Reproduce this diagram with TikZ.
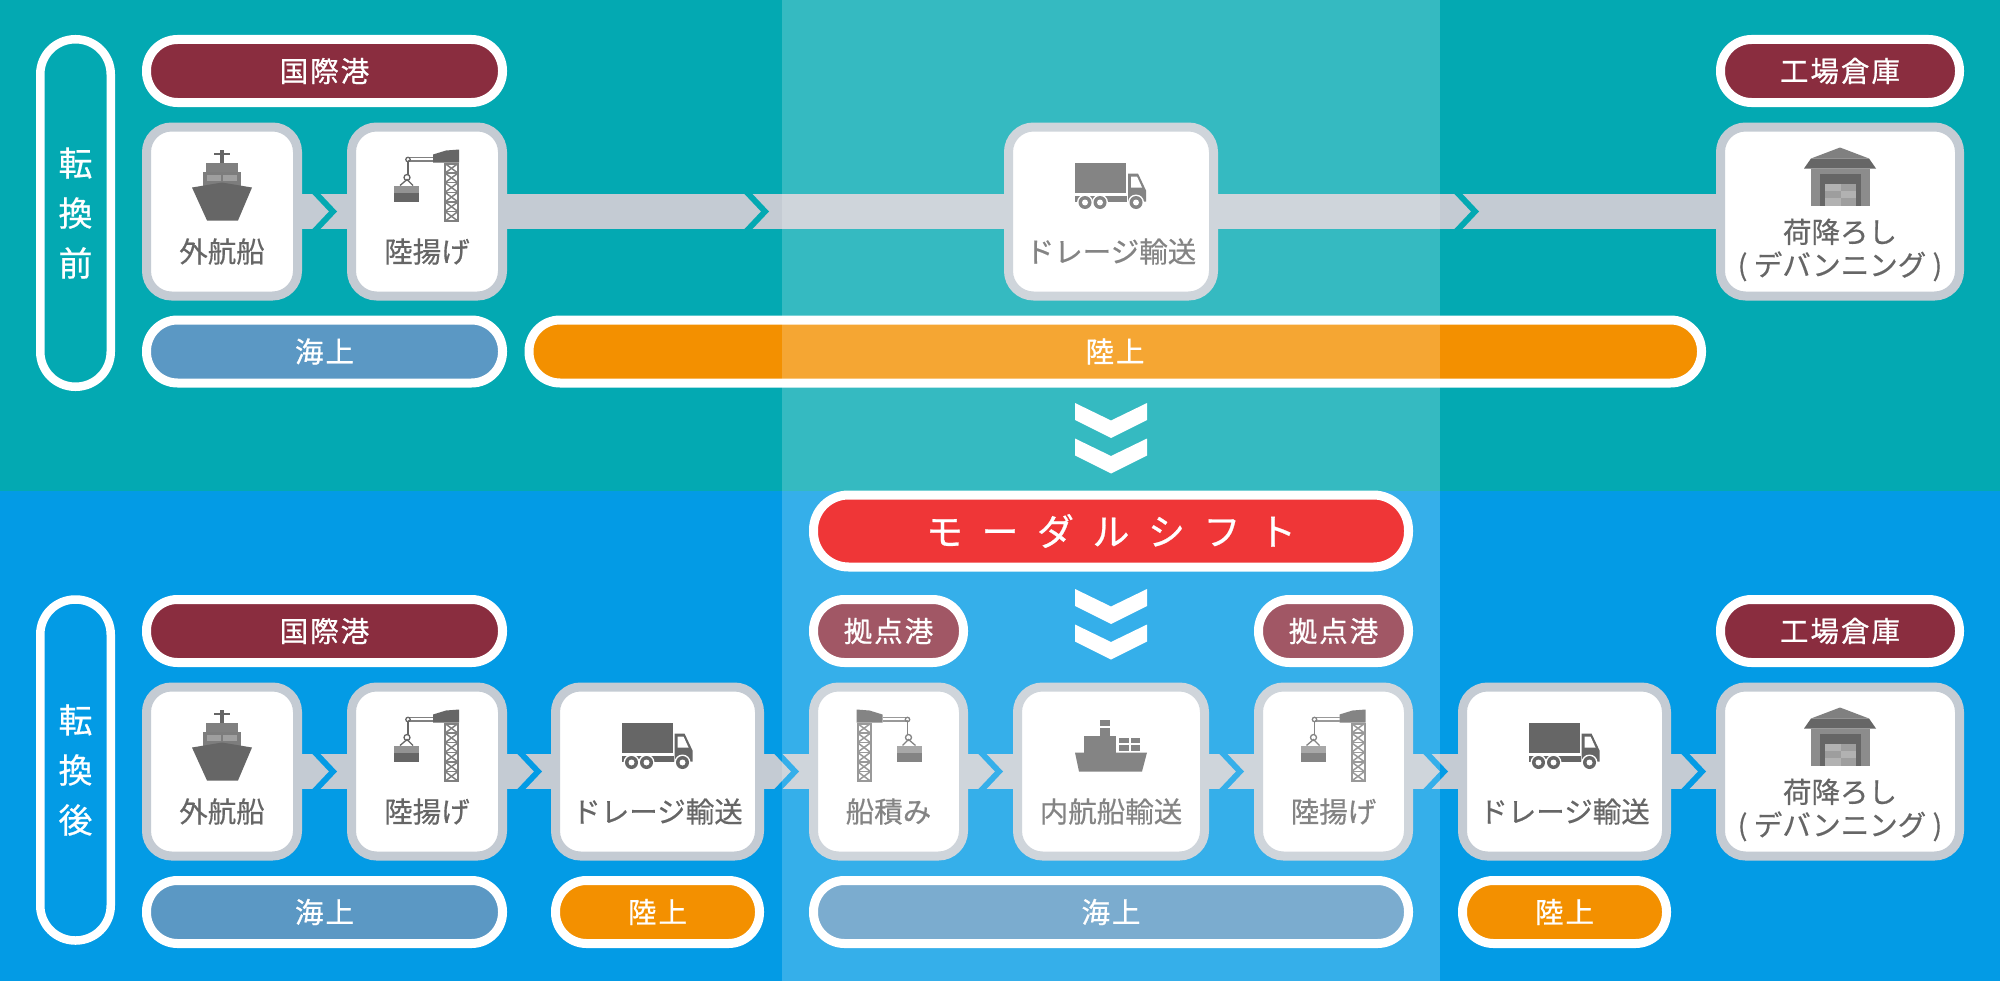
\documentclass[tikz,border=0pt]{standalone}
\usepackage{fontspec}
\newfontfamily\jpfont[FakeBold=0.5]{Noto Sans CJK JP}
\newfontfamily\jpwide[LetterSpace=7,FakeBold=0.7]{Noto Sans CJK JP}
\newfontfamily\jpshift[LetterSpace=50,FakeBold=0.7]{Noto Sans CJK JP}
\definecolor{bandteal}{HTML}{03A9B2}
\definecolor{bandblue}{HTML}{039BE5}
\definecolor{cardgray}{HTML}{C4CBD3}
\definecolor{icongray}{HTML}{666666}
\definecolor{portred}{HTML}{8A2D3F}
\definecolor{searoute}{HTML}{5B98C4}
\definecolor{landroute}{HTML}{F39000}
\definecolor{shiftred}{HTML}{EB0406}
\tikzset{
  card/.style={draw=cardgray,fill=white,line width=9pt,rounded corners=25pt,inner sep=0pt,minimum height=169pt},
  pill/.style={draw=white,line width=9pt,rounded corners=31pt,inner sep=0pt,minimum height=63pt,text=white,font=\jpwide\fontsize{28.5}{33}\selectfont},
  phase/.style={draw=white,line width=8.5pt,rounded corners=35pt,inner sep=0pt,minimum width=70.5pt,text=white,align=center,font=\jpfont\fontsize{34}{50}\selectfont},
  cardtext/.style={text=icongray,inner sep=0pt,align=center,font=\jpfont\fontsize{28.5}{33}\selectfont},
  linkbar/.style={draw=cardgray,line width=35pt},
  % gap that cuts a link bar
  pics/linkgap/.style={code={
    \fill[#1] (-17,-18) -- (0,0) -- (-17,18) -- (-9,18) -- (8,0) -- (-9,-18) -- cycle;
  }},
  pics/doublechev/.style={code={
    \foreach \k in {0,35.5} {
      \fill[white] (-36,\k) -- (0,17.5+\k) -- (36,\k) -- (36,17+\k) -- (0,35+\k) -- (-36,17+\k) -- cycle;
    }
  }},
  pics/oceanship/.style={code={
    \fill[icongray] (-2,-62) rectangle (2,-49);
    \fill[icongray] (-8,-59) rectangle (8,-57);
    \fill[gray] (-16,-49) rectangle (16,-40);
    \fill[icongray!85!white] (-19,-40) rectangle (19,-20);
    \fill[gray!75!white] (-15,-37) rectangle (-1,-31);
    \fill[gray!75!white] (1,-37) rectangle (15,-31);
    \fill[icongray] (-30,-24) -- (0,-29) -- (30,-24) -- (16,9) -- (-15,9) -- cycle;
  }},
  pics/crane/.style={code={
    % tower
    \draw[gray,line width=2pt] (18,-48) rectangle (31,9.5);
    \foreach \k in {0,...,5} {
      \draw[gray,line width=1.5pt] (18,-48+\k*9.6) -- (31,-48+\k*9.6+9.6);
      \draw[gray,line width=1.5pt] (31,-48+\k*9.6) -- (18,-48+\k*9.6+9.6);
      \draw[gray,line width=1.5pt] (18,-48+\k*9.6) -- (31,-48+\k*9.6);
    }
    % jib and cable
    \fill[icongray] (6,-57) -- (19,-61) -- (32,-62) -- (32,-49) -- (6,-49) -- cycle;
    \draw[gray,line width=1.4pt] (-19,-54) -- (6,-54);
    \draw[gray,line width=1.4pt] (-19,-50.5) -- (6,-50.5);
    \draw[icongray,line width=1.3pt] (-19,-52) circle[radius=2.2pt];
    \draw[icongray,line width=1.3pt] (-19,-50) -- (-19,-37);
    \draw[icongray,line width=1.3pt] (-20,-34) circle[radius=3pt];
    \draw[icongray,line width=1.3pt] (-27,-26) -- (-20,-32) -- (-14,-26);
    % container
    \fill[gray!85!white] (-33,-26) rectangle (-8,-19);
    \fill[icongray] (-33,-19) rectangle (-8,-10);
  }},
  pics/truck/.style={code={
    \fill[icongray] (-36,-49) rectangle (15,-19);
    \fill[icongray] (-36,-16) rectangle (16,-10);
    \fill[icongray] (17,-38) -- (27,-38) -- (35,-21) -- (35,-10) -- (17,-10) -- cycle;
    \fill[white] (20,-35) -- (26,-35) -- (31,-24) -- (20,-24) -- cycle;
    \foreach \k in {-26,-11,25} {
      \fill[white] (\k,-9) circle[radius=8pt];
      \fill[icongray] (\k,-9) circle[radius=6.5pt];
      \fill[white] (\k,-9) circle[radius=3pt];
    }
  }},
  pics/coastship/.style={code={
    \fill[icongray] (-11,-52) rectangle (-1,-36);
    \fill[white] (-11,-46) rectangle (-1,-44);
    \fill[icongray] (-27,-36) rectangle (5,-19);
    \fill[icongray] (8,-34) rectangle (18,-28.2);
    \fill[icongray] (19.5,-34) rectangle (29,-28.2);
    \fill[icongray] (8,-26.8) rectangle (18,-21);
    \fill[icongray] (19.5,-26.8) rectangle (29,-21);
    \fill[icongray] (-36,-19) -- (36,-19) -- (31,0) -- (-32,0) -- cycle;
  }},
  pics/warehouse/.style={code={
    \fill[black!45] (-29,-43) rectangle (30,-6);
    \fill[gray] (0,-64) -- (29,-53) -- (-29,-53) -- cycle;
    \fill[icongray] (-29,-53) -- (29,-53) -- (36,-43) -- (-36,-43) -- cycle;
    \fill[icongray] (-20,-38) rectangle (21,-6);
    \fill[black!30] (-15,-28) rectangle (16,-6);
    \fill[black!38] (0.5,-28) rectangle (16,-20.7);
    \fill[black!38] (-15,-20.7) rectangle (0.5,-13.4);
    \fill[black!38] (0.5,-13.4) rectangle (16,-6);
  }},
}

\begin{document}
\begin{tikzpicture}[x=1pt,y=-1pt]
    \useasboundingbox (0,0) rectangle (2000,982);
    % Bands
    \fill[bandteal] (0,0) rectangle (2000,491);
    \fill[bandblue] (0,491) rectangle (2000,981);

    % Before: cards
    \node[card,minimum width=151pt] (ship1) at (222,211.5) {};
    \node[card,minimum width=151pt] (crane1) at (427,211.5) {};
    \node[card,minimum width=205pt] (truck1) at (1111,211.5) {};
    \node[card,minimum width=239pt] (unload1) at (1840,211.5) {};

    % Before: links
    \draw[linkbar] (ship1) -- (crane1);
    \draw[linkbar] (crane1) -- (truck1);
    \draw[linkbar] (truck1) -- (unload1);
    \pic at (329,211.5) {linkgap=bandteal};
    \pic at (761,211.5) {linkgap=bandteal};
    \pic at (1471,211.5) {linkgap=bandteal};

    % Before: pills
    \node[phase,minimum height=347.5pt] (before) at (75.5,213) {転\\換\\前};
    \node[pill,fill=portred,minimum width=356pt] (port1) at (324.5,71) {国際港};
    \node[pill,fill=portred,minimum width=239pt] (factory1) at (1840,71) {工場倉庫};
    \node[pill,fill=searoute,minimum width=356pt] (sea1) at (324.5,351.5) {海上};
    \node[pill,fill=landroute,minimum width=1172.5pt] (land1) at (1115.25,351.5) {};
    \node[text=white,inner sep=0pt,font=\jpwide\fontsize{28.5}{33}\selectfont] (land1t) at (1115,351.5) {陸上};

    % Before: icons and texts
    \pic at (ship1.center) {oceanship};
    \pic at (crane1.center) {crane};
    \pic at (truck1.center) {truck};
    \pic at (unload1.center) {warehouse};
    \node[cardtext] (ship1t) at (222,251.5) {外航船};
    \node[cardtext] (crane1t) at (427,251.5) {陸揚げ};
    \node[cardtext] (truck1t) at (1111,251.5) {ドレージ輸送};
    \node[cardtext] (unload1t) at (1840,250) {荷降ろし\\( デバンニング )};

    \pic at (1111,403) {doublechev};

    % Shift banner
    \node[pill,fill=shiftred,minimum width=595pt,minimum height=72pt,rounded corners=35pt,font=\jpshift\fontsize{37}{40}\selectfont] (modal) at (1111,531) {モーダルシフト};
    \pic at (1111,589) {doublechev};

    % After: cards
    \node[card,minimum width=151pt] (ship2) at (222,771.5) {};
    \node[card,minimum width=151pt] (crane2) at (427,771.5) {};
    \node[card,minimum width=204pt] (truck2) at (657.5,771.5) {};
    \node[card,minimum width=150pt] (load) at (888.5,771.5) {};
    \node[card,minimum width=187pt] (coast) at (1111,771.5) {};
    \node[card,minimum width=150pt] (crane3) at (1333.5,771.5) {};
    \node[card,minimum width=204pt] (truck3) at (1564.5,771.5) {};
    \node[card,minimum width=239pt] (unload2) at (1840,771.5) {};

    % After: links
    \draw[linkbar] (ship2) -- (crane2);
    \draw[linkbar] (crane2) -- (truck2);
    \draw[linkbar] (truck2) -- (load);
    \draw[linkbar] (load) -- (coast);
    \draw[linkbar] (coast) -- (crane3);
    \draw[linkbar] (crane3) -- (truck3);
    \draw[linkbar] (truck3) -- (unload2);
    \foreach \tipx in {329,534,791,995,1236,1440,1698} {
        \pic at (\tipx,771.5) {linkgap=bandblue};
    }

    % After: pills
    \node[phase,minimum height=341pt] (after) at (75.5,770) {転\\換\\後};
    \node[pill,fill=portred,minimum width=356pt] (port2) at (324.5,631) {国際港};
    \node[pill,fill=portred,minimum width=150pt] (base1) at (888.5,631) {拠点港};
    \node[pill,fill=portred,minimum width=150pt] (base2) at (1333.5,631) {拠点港};
    \node[pill,fill=portred,minimum width=239pt] (factory2) at (1840,631) {工場倉庫};
    \node[pill,fill=searoute,minimum width=356pt] (sea2) at (324.5,912) {海上};
    \node[pill,fill=landroute,minimum width=204pt] (land2) at (657.5,912) {陸上};
    \node[pill,fill=searoute,minimum width=595pt] (sea3) at (1111,912) {海上};
    \node[pill,fill=landroute,minimum width=204pt] (land3) at (1564.5,912) {陸上};

    % After: icons and texts
    \pic at (ship2.center) {oceanship};
    \pic at (crane2.center) {crane};
    \pic at (truck2.center) {truck};
    \pic[xscale=-1] at (load.center) {crane};
    \pic at (coast.center) {coastship};
    \pic at (crane3.center) {crane};
    \pic at (truck3.center) {truck};
    \pic at (unload2.center) {warehouse};
    \node[cardtext] (ship2t) at (222,811.5) {外航船};
    \node[cardtext] (crane2t) at (427,811.5) {陸揚げ};
    \node[cardtext] (truck2t) at (657.5,811.5) {ドレージ輸送};
    \node[cardtext] (loadt) at (888.5,811.5) {船積み};
    \node[cardtext] (coastt) at (1111,811.5) {内航船輸送};
    \node[cardtext] (crane3t) at (1333.5,811.5) {陸揚げ};
    \node[cardtext] (truck3t) at (1564.5,811.5) {ドレージ輸送};
    \node[cardtext] (unload2t) at (1840,810) {荷降ろし\\( デバンニング )};

    % Light column over everything
    \fill[white,opacity=0.2] (782,0) rectangle (1440,981);
\end{tikzpicture}
\end{document}
